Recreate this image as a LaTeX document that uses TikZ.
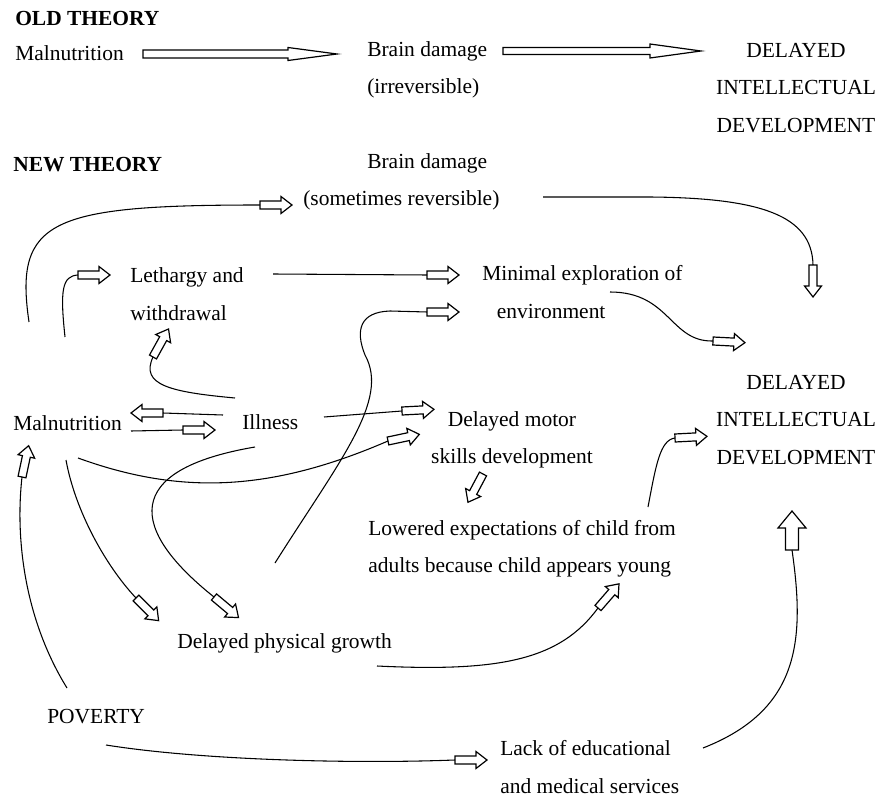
\documentclass[tikz,border=0pt]{standalone}
\usepackage{fontspec}
\setmainfont{Liberation Serif}
\tikzset{
	txt/.style={inner sep=0pt, anchor=west, font=\fontsize{16.1}{28}\selectfont},
	conn/.style={line width=0.8pt},
	pics/blk/.style args={#1/#2/#3/#4}{code={
		\draw[line width=0.9pt, fill=white] (0,-#2) -- (#1,-#2) -- (#1,-#4) -- (#1+#3,0) -- (#1,#4) -- (#1,#2) -- (0,#2) -- cycle;
		\coordinate (-tail) at (0,0);
	}},
}
\begin{document}
\begin{tikzpicture}[x=0.75pt,y=0.75pt,yscale=-1,xscale=1]
\useasboundingbox (0,0) rectangle (881,798);

% old theory
\node[txt] (oldtitle) at (15,19) {\textbf{OLD THEORY}};
\node[txt] (oldmal) at (15,53) {Malnutrition};
\node[txt, align=left] (oldbrain) at (367,70) {Brain damage\\(irreversible)};
\node[txt, anchor=center, align=center] (olddid) at (796,88) {DELAYED\\INTELLECTUAL\\DEVELOPMENT};
\pic (o1) at (143,54) {blk=145/4/49/6.5};
\pic (o2) at (503,51) {blk=147/3.5/51/7};

% new theory
\node[txt] (newtitle) at (13,165) {\textbf{NEW THEORY}};
\node[txt, align=left] (brain) at (303,182) {\hspace*{48pt}Brain damage\\(sometimes reversible)};
\node[txt, align=left] (leth) at (130,294) {Lethargy and\\withdrawal};
\node[txt, align=left] (minexp) at (482,292) {Minimal exploration of\\\hspace*{11pt}environment};
\node[txt] (mal) at (13,423) {Malnutrition};
\node[txt] (ill) at (242,422) {Illness};
\node[txt, anchor=center, align=center] (motor) at (512,440) {Delayed motor\\skills development};
\node[txt, anchor=center, align=center] (did) at (796,420) {DELAYED\\INTELLECTUAL\\DEVELOPMENT};
\node[txt, align=left] (lowered) at (368,549) {Lowered expectations of child from\\adults because child appears young};
\node[txt] (growth) at (177,643) {Delayed physical growth};
\node[txt] (poverty) at (47,717) {POVERTY};
\node[txt, align=left] (lack) at (500,767) {Lack of educational\\and medical services};

% arrow heads
\pic (a1) at (260,205) {blk=21/4/11/8.5};
\pic (a2) at (78,275) {blk=21/4/11/8.5};
\pic (a3) at (427,275) {blk=21/4/11/8.5};
\pic (a4) at (427,312) {blk=21/4/11/8.5};
\pic[rotate=-90] (a5) at (813,265) {blk=21/4/11/8.5};
\pic[rotate=-3] (a6) at (713,341) {blk=21/4/11/8.5};
\pic[rotate=61] (a7) at (153,357) {blk=21/4/11/8.5};
\pic[rotate=180] (a8) at (163,413) {blk=21/4/11/8.5};
\pic (a9) at (183,430) {blk=21/4/11/8.5};
\pic[rotate=3] (a10) at (402,411) {blk=21/4/11/8.5};
\pic[rotate=12] (a11) at (388,441) {blk=21/4/11/8.5};
\pic[rotate=-118] (a12) at (483,474) {blk=21/4/11/8.5};
\pic[rotate=-45] (a13) at (136,598) {blk=21/4/11/8.5};
\pic[rotate=-40] (a14) at (214,597) {blk=21/4/11/8.5};
\pic[rotate=49] (a15) at (598,608) {blk=21/4/11/8.5};
\pic[rotate=3] (a16) at (675,438) {blk=21/4/11/8.5};
\pic[rotate=90] (a17) at (792,550) {blk=22/6.5/17/14};
\pic[rotate=78] (a18) at (22,477) {blk=21/4/11/8.5};
\pic (a19) at (455,760) {blk=21/4/11/8.5};

% start points
\coordinate (malA) at (29,322);
\coordinate (malB) at (65,337);
\coordinate (lethA) at (273,274);
\coordinate (growthA) at (275,563);
\coordinate (brainA) at (543,197);
\coordinate (minexpA) at (610,292);
\coordinate (illA) at (235,398);
\coordinate (illB) at (223,415);
\coordinate (malC) at (131,431);
\coordinate (illC) at (324,417);
\coordinate (malD) at (78,458);
\coordinate (illD) at (255,447);
\coordinate (malE) at (66,460);
\coordinate (growthB) at (377,666);
\coordinate (loweredA) at (648,507);
\coordinate (lackA) at (703,748);
\coordinate (povertyA) at (67,688);
\coordinate (povertyB) at (106,745);

% connectors
\draw[conn] (malA) .. controls (14,220) and (50,205) .. (a1-tail);
\draw[conn] (malB) .. controls (60,290) and (62,276) .. (a2-tail);
\draw[conn] (lethA) -- (a3-tail);
\draw[conn] (growthA) .. controls (340,460) and (390,400) .. (365,355) .. controls (355,330) and (360,312) .. (390,311) -- (a4-tail);
\draw[conn] (brainA) -- (650,197) .. controls (760,198) and (812,215) .. (a5-tail);
\draw[conn] (minexpA) .. controls (670,292) and (670,342) .. (a6-tail);
\draw[conn] (illA) .. controls (170,392) and (140,385) .. (a7-tail);
\draw[conn] (illB) -- (a8-tail);
\draw[conn] (malC) -- (a9-tail);
\draw[conn] (illC) -- (a10-tail);
\draw[conn] (malD) .. controls (180,495) and (270,492) .. (a11-tail);
\draw[conn] (malE) .. controls (75,510) and (105,565) .. (a13-tail);
\draw[conn] (illD) .. controls (120,470) and (130,530) .. (a14-tail);
\draw[conn] (growthB) .. controls (500,672) and (560,660) .. (a15-tail);
\draw[conn] (loweredA) .. controls (656,465) and (660,440) .. (a16-tail);
\draw[conn] (lackA) .. controls (800,710) and (805,640) .. (a17-tail);
\draw[conn] (povertyA) .. controls (25,620) and (15,540) .. (a18-tail);
\draw[conn] (povertyB) .. controls (200,760) and (350,764) .. (a19-tail);
\end{tikzpicture}
\end{document}
